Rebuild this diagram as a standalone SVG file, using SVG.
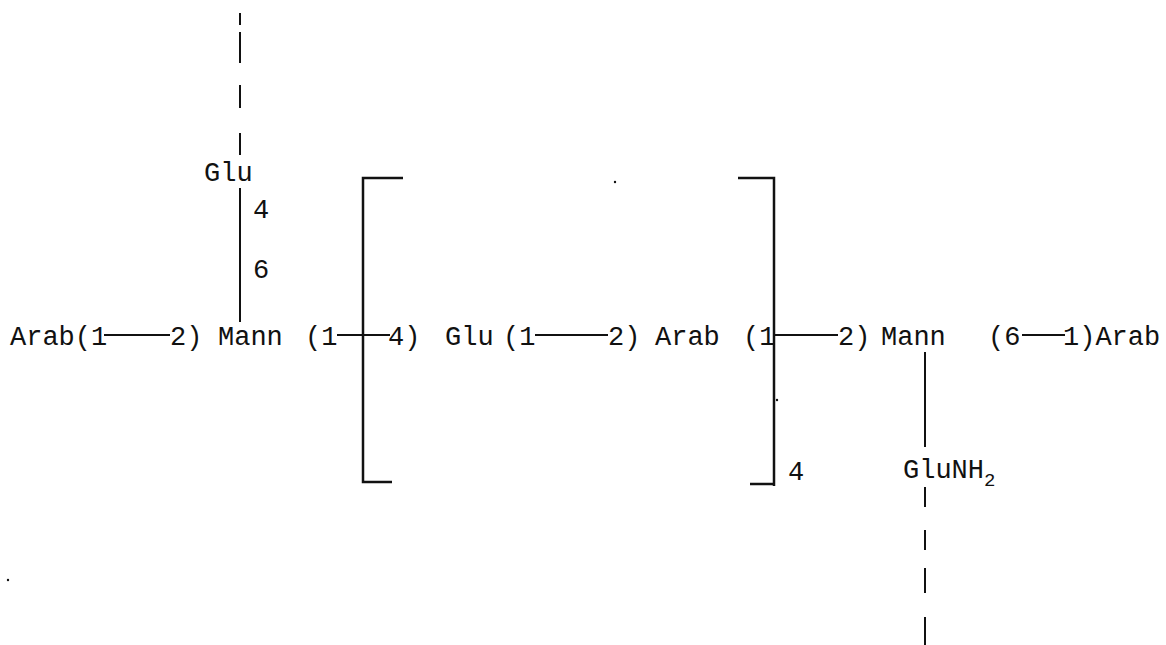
<svg xmlns="http://www.w3.org/2000/svg" width="1166" height="645" viewBox="0 0 1166 645">
<style>
text{font-family:"Liberation Mono","DejaVu Sans Mono",monospace;font-size:27px;fill:#111}
.ln{stroke:#111;stroke-width:2;fill:none}
.br{stroke:#111;stroke-width:2.5;fill:none}
.sub{font-size:19px}
</style>
<rect width="1166" height="645" fill="#fff"/>
<g id="connectors">
<path class="ln" d="M240,13V25M240,32V63M240,85V108M240,133V155"/>
<path class="ln" d="M240,188V322"/>
<path class="ln" d="M104,335H170M337,335H390M535,335H608M775,335H838M1022,335H1065"/>
<path class="ln" d="M925,352V447"/>
<path class="ln" d="M925,487V507M925,530V550M925,568V593M925,617V645"/>
</g>
<g id="bracket-left"><path class="br" d="M403,178H363V482H392"/></g>
<g id="bracket-right"><path class="br" d="M738,178H774V486M750,484H774"/><text x="788" y="480">4</text></g>
<g id="glu-top"><text x="204" y="181">Glu</text><text x="253" y="218">4</text><text x="253" y="278">6</text></g>
<g id="main-chain">
<text x="10" y="345">Arab(1</text>
<text x="170" y="345">2)</text>
<text x="218" y="345">Mann</text>
<text x="305" y="345">(1</text>
<text x="388" y="345">4)</text>
<text x="445" y="345">Glu</text>
<text x="503" y="345">(1</text>
<text x="608" y="345">2)</text>
<text x="655" y="345">Arab</text>
<text x="743" y="345">(1</text>
<text x="838" y="345">2)</text>
<text x="881" y="345">Mann</text>
<text x="988" y="345">(6</text>
<text x="1063" y="345">1)Arab</text>
</g>
<g id="glunh2"><text x="903" y="478">GluNH<tspan class="sub" dy="8">2</tspan></text></g>
<g id="specks" fill="#111"><circle cx="615" cy="182" r="1.2"/><circle cx="777" cy="400" r="1.2"/><circle cx="8" cy="580" r="1.2"/></g>
</svg>
